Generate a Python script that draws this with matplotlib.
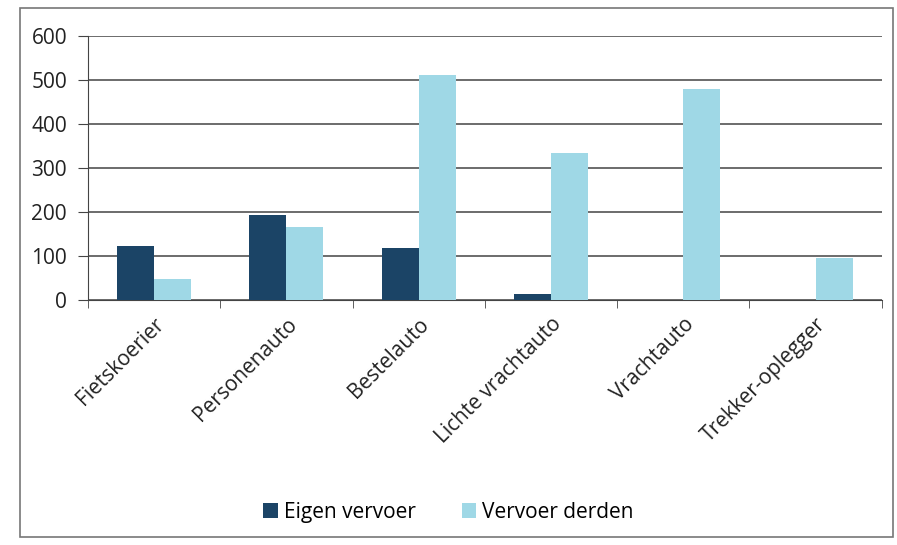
import matplotlib.pyplot as plt
import numpy as np
from matplotlib.patches import Rectangle

categories = ['Fietskoerier', 'Personenauto', 'Bestelauto', 'Lichte vrachtauto',
              'Vrachtauto', 'Trekker-oplegger']
eigen = [123, 193, 118, 14, 0, 0]
derden = [48, 166, 511, 334, 479, 95]
series_names = ['Eigen vervoer', 'Vervoer derden']
yticks = [0, 100, 200, 300, 400, 500, 600]

plt.rcParams['font.family'] = ['Open Sans', 'DejaVu Sans']

fig = plt.figure(figsize=(8.97, 5.45), dpi=100)
fig.patches.append(Rectangle((0.022, 0.015), 0.973, 0.97, transform=fig.transFigure,
                             fill=False, edgecolor='#777777', linewidth=1.2))
ax = fig.add_axes([0.098, 0.450, 0.885, 0.484])

x = np.arange(len(categories))
w = 0.28
ax.bar(x - w / 2, eigen, w, color='#1b4466', label=series_names[0], zorder=3)
ax.bar(x + w / 2, derden, w, color='#9fd8e6', label=series_names[1], zorder=3)

ax.set_xlim(-0.5, len(categories) - 0.5)
ax.set_ylim(0, 600)
ax.set_yticks(yticks)
ax.yaxis.grid(True, color='#444444', linewidth=1.1, zorder=0)
ax.tick_params(axis='y', length=7, color='#444444', labelsize=15, labelcolor='#222222', pad=8)

ax.set_xticks(x)
ax.set_xticklabels(categories, rotation=45, ha='right', rotation_mode='anchor',
                   fontsize=15, color='#222222')
ax.tick_params(axis='x', length=0, pad=10)
ax.set_xticks(np.arange(-0.5, len(categories)), minor=True)
ax.tick_params(axis='x', which='minor', length=6, color='#444444')

for s in ['top', 'right']:
    ax.spines[s].set_visible(False)
ax.spines['left'].set_color('#444444')
ax.spines['bottom'].set_color('#444444')

fig.legend(loc='center', bbox_to_anchor=(0.5, 0.06), ncol=2, frameon=False,
           fontsize=15, handlelength=0.7, handleheight=0.7, columnspacing=2.2,
           handletextpad=0.3)

fig.savefig('out.png', dpi=100)
